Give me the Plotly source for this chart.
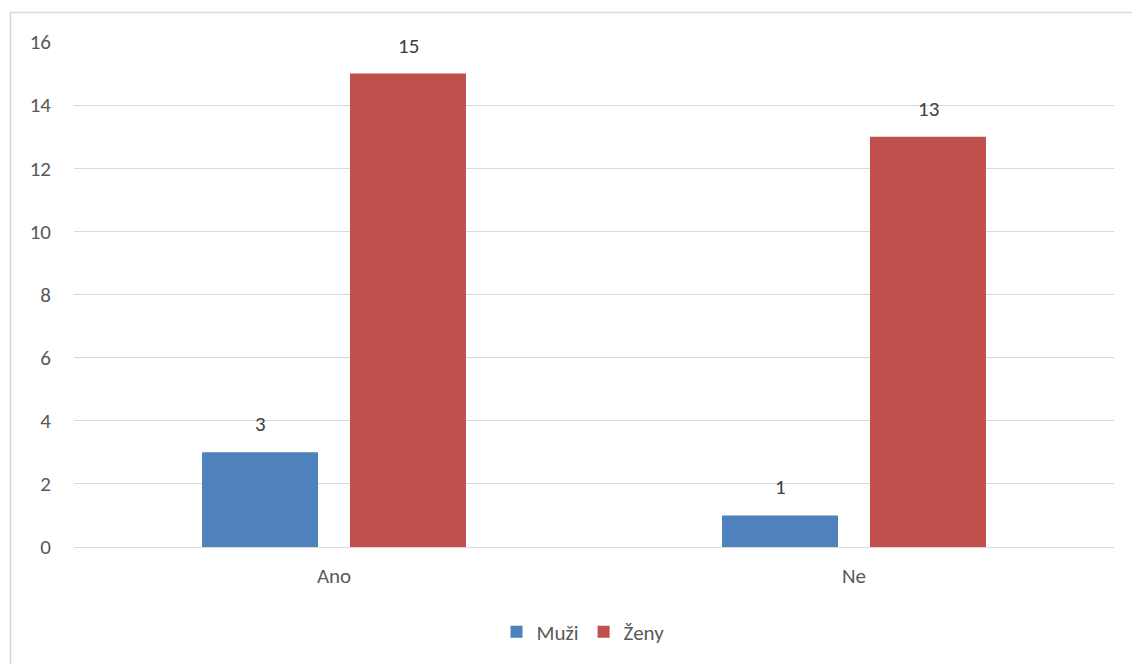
import plotly.graph_objects as go

categories = ["Ano", "Ne"]
muzi = [3, 1]
zeny = [15, 13]
series_names = ["Muži", "Ženy"]
colors = ["#4F81BD", "#C0504D"]
y_ticks = [0, 2, 4, 6, 8, 10, 12, 14, 16]

FONT = "Carlito, Lato, 'Open Sans', sans-serif"
FS = 21
fig = go.Figure()
for name, vals, col in zip(series_names, [muzi, zeny], colors):
    fig.add_trace(go.Bar(
        name=name, x=categories, y=vals, marker_color=col,
        marker_line_width=0,
    ))

# data labels
offsets = [-74, 74]
for vals, off in zip([muzi, zeny], offsets):
    for c, v in zip(categories, vals):
        fig.add_annotation(x=c, y=v, text=str(v), showarrow=False,
                           xshift=off, yshift=13, yanchor="bottom",
                           font=dict(size=FS, color="#404040", family=FONT))

W, H = 1132, 664
L, R, T, B = 74, 18, 42, 117
pw, ph = W - L - R, H - T - B
def px(x):
    return (x - L) / pw
def py(y):
    return (H - B - y) / ph

fig.add_shape(type="rect", xref="paper", yref="paper",
              x0=px(10.5), x1=px(1145), y0=py(12.5), y1=py(700),
              line=dict(color="#D9D9D9", width=1.5), layer="below")

fig.update_layout(
    width=W, height=H,
    margin=dict(l=L, r=R, t=T, b=B, pad=0),
    paper_bgcolor="white", plot_bgcolor="white",
    barmode="group", bargap=0.431, bargroupgap=0.216,
    font=dict(family=FONT, size=FS, color="#595959"),
    showlegend=True,
    legend=dict(orientation="h", x=px(583), xanchor="center",
                y=py(632), yanchor="middle",
                font=dict(size=FS, color="#595959"),
                itemwidth=30, traceorder="normal"),
    xaxis=dict(showgrid=False, showline=False, ticks="",
               ticklabelstandoff=14,
               tickfont=dict(size=FS, color="#595959")),
    yaxis=dict(range=[0, 16], tickvals=y_ticks, showgrid=True,
               gridcolor="#D9D9D9", gridwidth=1, zeroline=True,
               zerolinecolor="#D9D9D9", zerolinewidth=1, showline=False,
               ticks="", ticklabelstandoff=22,
               tickfont=dict(size=FS, color="#595959")),
)
fig.write_html("out.html", config={"displayModeBar": False},
               post_script="document.body.style.margin='0';document.body.style.overflow='hidden';")
